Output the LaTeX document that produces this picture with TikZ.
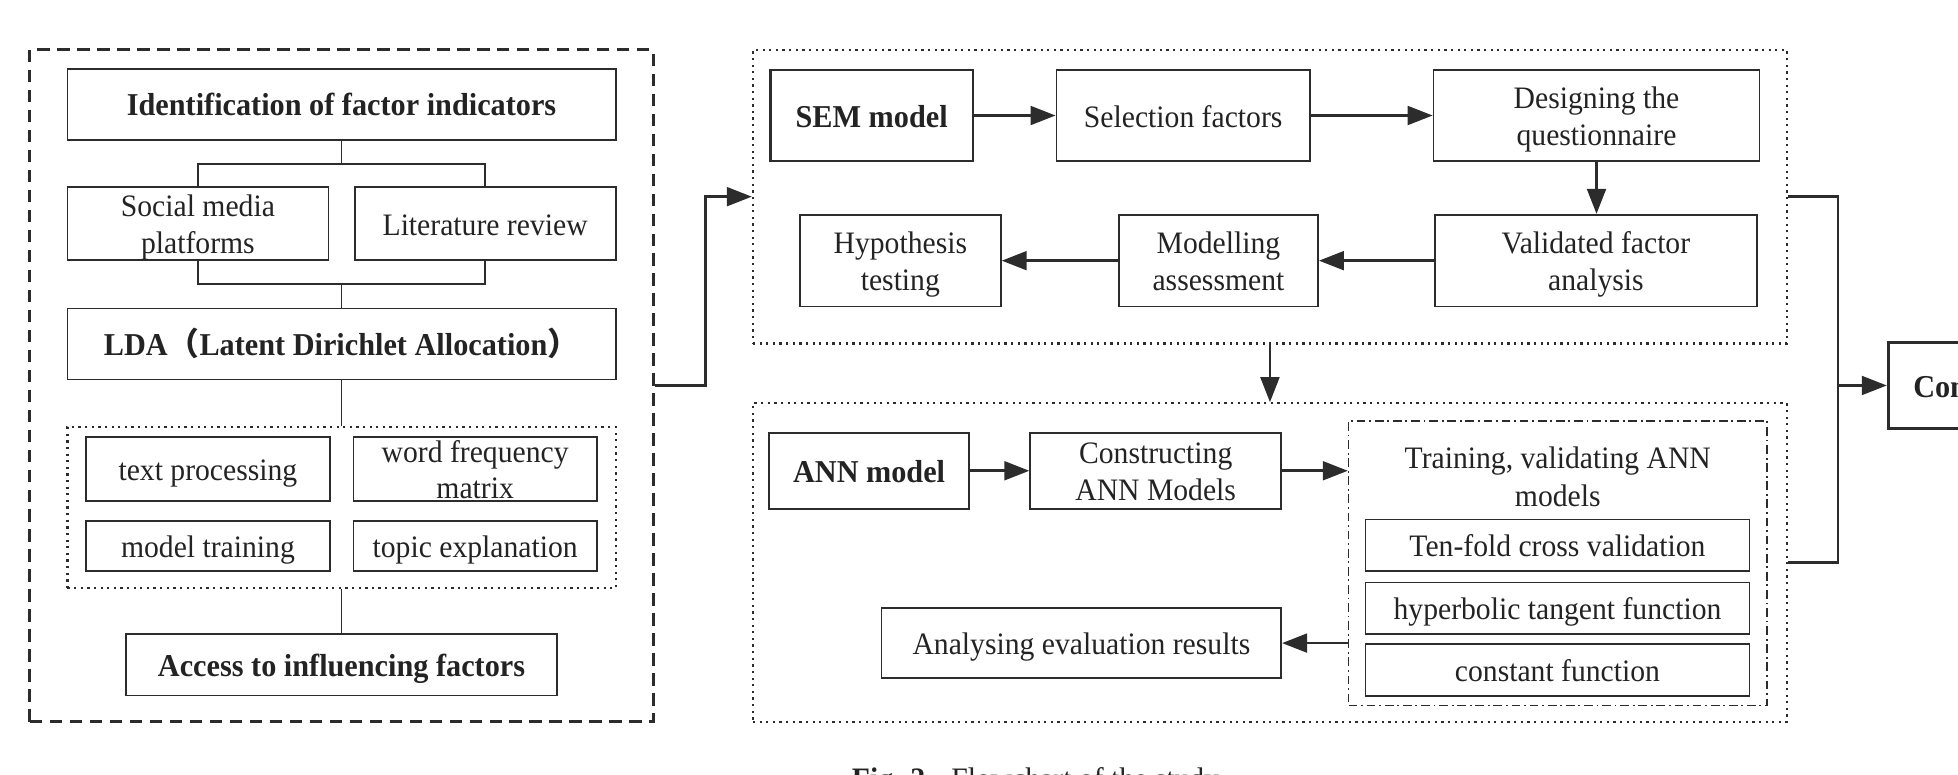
\documentclass[tikz,border=0pt]{standalone}
\usepackage{fontspec}
\setmainfont[FakeStretch=0.95]{Liberation Serif}
\newfontfamily\cjkfont{Noto Sans CJK SC}
\usetikzlibrary{arrows.meta,calc}
\definecolor{ln}{HTML}{2C2C2C}
\definecolor{tx}{HTML}{232323}
\begin{document}
\begin{tikzpicture}[x=1pt,y=-1pt,
  box/.style={draw=ln, line width=1.4pt, inner sep=0pt, align=center, text=tx,
              font=\fontsize{25}{29.5}\selectfont, one},
  bbox/.style={box, font=\fontsize{25.5}{30}\selectfont\bfseries},
  one/.style={text height=21.8pt, text depth=3.2pt},
  two/.style={text height=49.3pt, text depth=1.2pt},
  con/.style={draw=ln, line width=1.4pt},
  thick con/.style={draw=ln, line width=2.2pt},
  arr/.style={draw=ln, line width=2.2pt, -{Triangle[length=20pt,width=15pt]}},
  dotbox/.style={draw=ln, line width=1.8pt, dash pattern=on 1.8pt off 3.5pt, inner sep=0pt},
  dashbox/.style={draw=ln, line width=2.4pt, dash pattern=on 10pt off 6pt, inner sep=0pt},
  dashdot/.style={draw=ln, line width=1.3pt, dash pattern=on 7pt off 3pt on 1.5pt off 3pt, inner sep=0pt},
  plain/.style={inner sep=0pt, align=center, text=tx, font=\fontsize{25}{30.5}\selectfont},
]
\useasboundingbox (0,0) rectangle (1568,620);
\clip (0,0) rectangle (1568,620);

% ---------------- left panel ----------------
\node[dashbox, minimum width=499pt, minimum height=538pt] (leftgrp) at (273.5,309) {};
\node[bbox, minimum width=439pt, minimum height=57pt] (ident) at (273.5,83.5) {Identification of factor indicators};
\node[box, two, minimum width=209pt, minimum height=58pt] (social) at (158.5,179) {Social media\\platforms};
\node[box, minimum width=209pt, minimum height=58pt] (lit) at (388.5,179) {Literature review};
\node[bbox, minimum width=439pt, minimum height=57pt] (lda) at (273.5,275.5)
  {LDA{\cjkfont （}Latent Dirichlet Allocation{\cjkfont ）}};
\node[dotbox, minimum width=439pt, minimum height=129pt] (ldagrp) at (273.5,406.5) {};
\node[box, minimum width=195pt, minimum height=51pt] (tp) at (166.5,375.5) {text processing};
\node[box, two, minimum width=195pt, minimum height=51pt] (wf) at (380.5,375.5) {word frequency\\matrix};
\node[box, minimum width=195pt, minimum height=40pt] (mt) at (166.5,437) {model training};
\node[box, minimum width=195pt, minimum height=40pt] (te) at (380.5,437) {topic explanation};
\node[bbox, minimum width=345pt, minimum height=49pt] (access) at (273.5,532.5) {Access to influencing factors};

\coordinate (j1) at ($(ident.south)+(0,18.5)$);
\coordinate (j2) at ($(lda.north)+(0,-19)$);
\draw[con] (ident.south) -- (j1);
\draw[con] (social.north) |- (j1) -| (lit.north);
\draw[con] (social.south) |- (j2) -| (lit.south);
\draw[con] (j2) -- (lda.north);
\draw[con] (lda.south) -- (ldagrp.north);
\draw[con] (ldagrp.south) -- (access.north);

% ---------------- SEM panel ----------------
\node[dotbox, minimum width=828pt, minimum height=235pt] (semgrp) at (1017,157.5) {};
\node[bbox, line width=1.7pt, minimum width=162pt, minimum height=73pt] (sem) at (698,92.5) {SEM model};
\node[box, minimum width=203pt, minimum height=73pt] (sel) at (947.5,92.5) {Selection factors};
\node[box, two, minimum width=261pt, minimum height=73pt] (des) at (1278.5,92.5) {Designing the\\questionnaire};
\node[box, two, minimum width=258pt, minimum height=73.5pt] (val) at (1278,208.75) {Validated factor\\analysis};
\node[box, two, minimum width=159.5pt, minimum height=73.5pt] (mod) at (975.75,208.75) {Modelling\\assessment};
\node[box, two, minimum width=161pt, minimum height=73.5pt] (hyp) at (721,208.75) {Hypothesis\\testing};

\draw[arr] (sem.east) -- (sel.west);
\draw[arr] (sel.east) -- (des.west);
\draw[arr] (des.south) -- (des.south |- val.north);
\draw[arr] (val.west) -- (mod.east);
\draw[arr] (mod.west) -- (hyp.east);

% ---------------- ANN panel ----------------
\node[dotbox, minimum width=828pt, minimum height=255pt] (anngrp) at (1017,450.5) {};
\node[bbox, line width=1.7pt, minimum width=160pt, minimum height=61pt] (ann) at (696,377) {ANN model};
\node[box, two, minimum width=201pt, minimum height=61pt] (cons) at (925.5,377) {Constructing\\ANN Models};
\node[dashdot, minimum width=335pt, minimum height=228pt] (tvgrp) at (1247.5,451) {};
\node[plain] (tvtext) at (1247.5,382) {Training, validating ANN\\models};
\node[box, minimum width=307.5pt, minimum height=41.3pt] (ten) at (1247.25,436.6) {Ten-fold cross validation};
\node[box, minimum width=307.5pt, minimum height=41.6pt] (hyb) at (1247.25,487.2) {hyperbolic tangent function};
\node[box, minimum width=307.5pt, minimum height=41.4pt] (cst) at (1247.25,536.7) {constant function};
\node[box, minimum width=320pt, minimum height=56pt] (anl) at (866,515) {Analysing evaluation results};

\draw[arr] (ann.east) -- (cons.west);
\draw[arr] (cons.east) -- (cons.east -| tvgrp.west);
\draw[arr] (tvgrp.west |- anl.east) -- (anl.east);

% ---------------- links between panels ----------------
\draw[arr] (leftgrp.east) -- ++(41,0) |- (semgrp.west);
\draw[arr] (semgrp.south) -- (anngrp.north);

\node[bbox, line width=2.3pt, anchor=west, minimum height=68.6pt, inner xsep=20pt, align=left] (conc) at (1511,308.7) {Conclusion};
\coordinate (rj) at ($(semgrp.east)+(40,0)$);
\draw[thick con] (semgrp.east) -- (rj) |- (anngrp.east);
\draw[arr] (rj |- conc.west) -- (conc.west);

% ---------------- caption (cut by the lower edge) ----------------
\node[anchor=base west, inner sep=0pt, text=tx, font=\fontsize{25}{28}\selectfont] (caption) at (682,632)
  {\textbf{Fig. 2.}\hspace{0.6em}Flowchart of the study};
\end{tikzpicture}
\end{document}
